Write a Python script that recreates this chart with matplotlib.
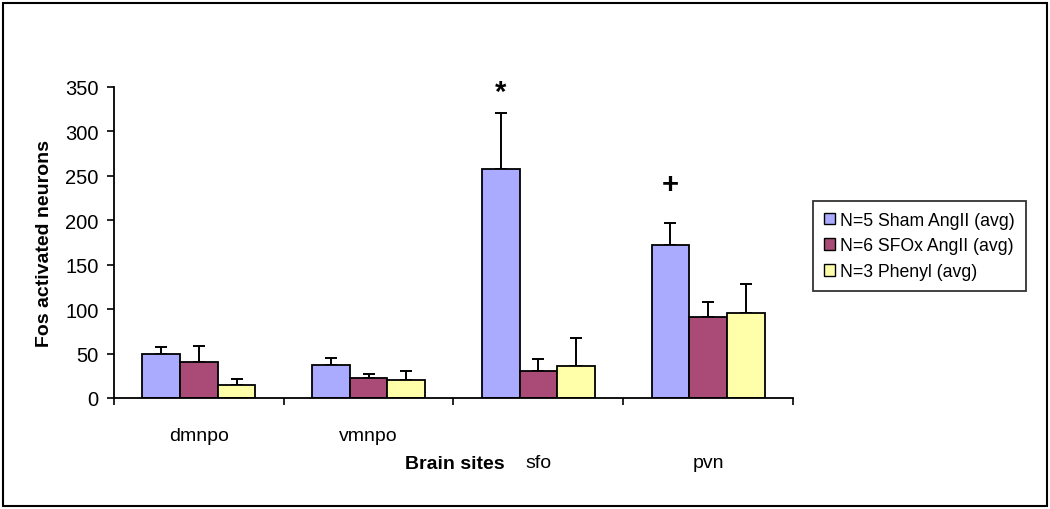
import matplotlib

matplotlib.use("Agg")
import matplotlib.pyplot as plt
import numpy as np
from matplotlib.patches import Rectangle

plt.rcParams["font.family"] = ["Liberation Sans", "DejaVu Sans"]

sites = ["dmnpo", "vmnpo", "sfo", "pvn"]
series = ["N=5 Sham AngII (avg)", "N=6 SFOx AngII (avg)", "N=3 Phenyl (avg)"]
sham = [50, 37, 258, 172]
sfox = [41, 23, 30, 91]
phenyl = [15, 20, 36, 96]
sham_err = [7, 8, 63, 25]
sfox_err = [17, 4, 14, 17]
phenyl_err = [6, 10, 32, 32]
marks = [("*", 2, 345), ("+", 3, 241)]

colors = ["#AAAAFF", "#A94A77", "#FFFFAA"]

fig = plt.figure(figsize=(10.5, 5.1), dpi=100)
ax = fig.add_axes([114 / 1050, 1 - 399 / 510, (793 - 114) / 1050, (399 - 88) / 510])

x = np.arange(len(sites))
width = 1 / 4.5
for i, (vals, errs) in enumerate(zip([sham, sfox, phenyl], [sham_err, sfox_err, phenyl_err])):
    pos = x + (i - 1) * width
    ax.bar(pos, vals, width, color=colors[i], edgecolor="black", linewidth=1.3,
           label=series[i], zorder=2)
    ax.errorbar(pos, vals, yerr=[np.zeros(len(errs)), errs], fmt="none",
                ecolor="black", elinewidth=1.4, capsize=4, capthick=1.4, zorder=1)

for sym, idx, yv in marks:
    ax.text(x[idx] - width, yv, sym, ha="center", va="center", fontsize=21,
            fontweight="bold")

ax.set_xlim(-0.5, len(sites) - 0.5)
ax.set_ylim(0, 350)
ax.set_yticks(range(0, 351, 50))
ax.tick_params(axis="y", direction="out", length=5, width=1.2, labelsize=14.5, pad=6)

ax.set_xticks(x)
ax.set_xticklabels(sites, fontsize=14)
ax.set_xticks(np.arange(-0.5, len(sites), 1), minor=True)
ax.tick_params(axis="x", which="major", length=0)
ax.tick_params(axis="x", which="minor", direction="out", length=5, width=1.2)
for i, t in enumerate(ax.xaxis.get_major_ticks()):
    t.set_pad(21 if i < 2 else 40)

ax.spines["top"].set_visible(False)
ax.spines["right"].set_visible(False)
ax.spines["left"].set_linewidth(1.3)
ax.spines["bottom"].set_linewidth(1.3)

ax.set_ylabel("Fos activated neurons", fontsize=14, fontweight="bold", labelpad=9)
fig.text(455 / 1050, 1 - 465 / 510, "Brain sites", ha="center", va="center",
         fontsize=14, fontweight="bold")

leg = fig.legend(loc="upper left", bbox_to_anchor=(813 / 1050, 1 - 202 / 510),
                 borderaxespad=0, fontsize=12.7, frameon=True, fancybox=False,
                 edgecolor="black", handlelength=0.65, handleheight=0.65,
                 handletextpad=0.3, borderpad=0.6, labelspacing=0.5)
leg.get_frame().set_linewidth(1.3)
for h in leg.legend_handles:
    h.set_linewidth(1.0)

fig.patches.append(Rectangle((3 / 1050, 3 / 510), 1044 / 1050, 503 / 510,
                             transform=fig.transFigure, fill=False,
                             edgecolor="black", linewidth=1.5))

fig.savefig("out.png", dpi=100)
